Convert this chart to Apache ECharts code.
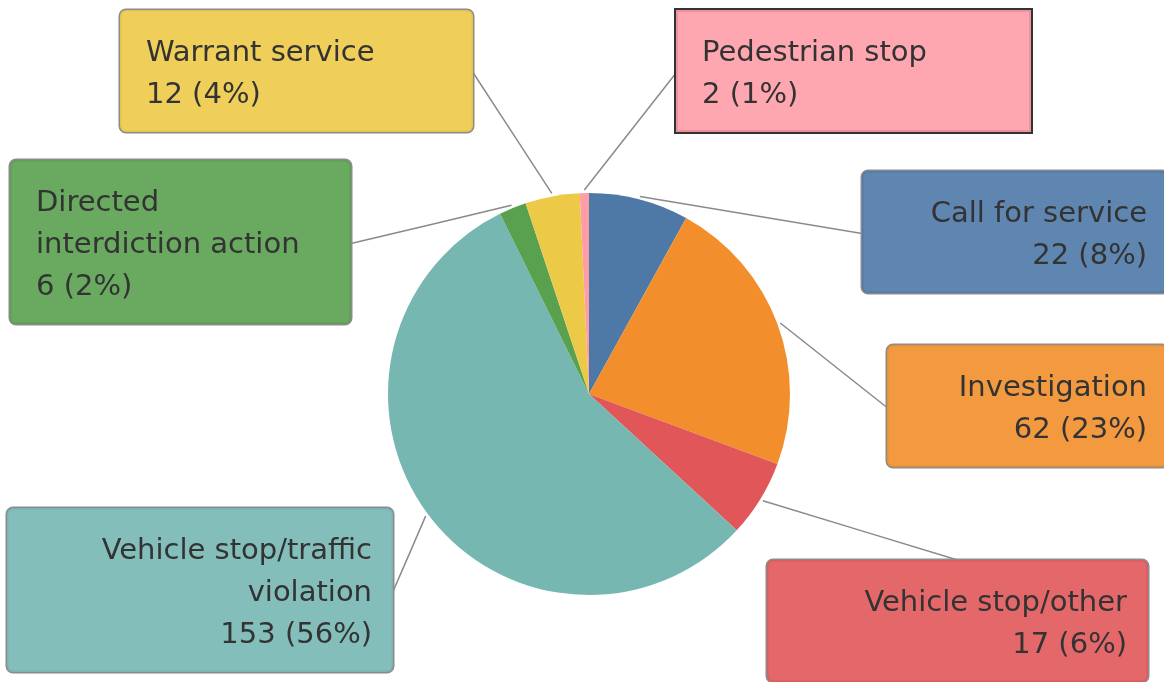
<!DOCTYPE html>
<html>
<head>
<meta charset="utf-8">
<script src="https://cdn.jsdelivr.net/npm/echarts@6/dist/echarts.min.js"></script>
<style>
  html, body { margin: 0; padding: 0; background: #fff; }
  #stops_pie { width: 1164px; height: 682px; }
</style>
</head>
<body>
<div id="stops_pie"></div>
<script>
// categories go clockwise from 12 o'clock
var categories = ['Call for service', 'Investigation', 'Vehicle stop/other',
    'Vehicle stop/traffic\nviolation', 'Directed\ninterdiction action',
    'Warrant service', 'Pedestrian stop'];
var counts = [22, 62, 17, 153, 6, 12, 2];
var sliceColors = ['#4e79a7', '#f28e2b', '#e15759', '#76b7b2', '#59a14f', '#edc948', '#ff9da7'];

// where each annotation box sits, and which side its leader line meets
var boxes = [
    { x: 862, y: 171, w: 306, align: 'right', side: 'left' },
    { x: 887, y: 345, w: 281, align: 'right', side: 'left' },
    { x: 767, y: 560, w: 381, align: 'right', side: 'top' },
    { x: 7, y: 508, w: 386, align: 'right', side: 'right' },
    { x: 10, y: 160, w: 341, align: 'left', side: 'right' },
    { x: 120, y: 10, w: 353, align: 'left', side: 'right' },
    { x: 676, y: 10, w: 355, align: 'left', side: 'left', square: true }
];

function fade(hex, a) {
    var n = parseInt(hex.slice(1), 16);
    return 'rgba(' + (n >> 16) + ',' + ((n >> 8) & 255) + ',' + (n & 255) + ',' + a + ')';
}

var padL = 26, padR = 21;
var pieData = categories.map(function (name, i) {
    var b = boxes[i];
    return {
        name: name,
        value: counts[i],
        itemStyle: { color: sliceColors[i] },
        label: {
            align: b.align,
            width: b.w - padL - padR,
            overflow: 'none',
            padding: [22, padR, 16, padL],
            backgroundColor: fade(sliceColors[i], 0.9),
            borderColor: b.square ? '#333' : '#8c8c8c',
            borderWidth: b.square ? 2 : 1.5,
            borderRadius: b.square ? 0 : 6
        }
    };
});

var myChart = echarts.init(document.getElementById('stops_pie'));
myChart.setOption({
    animation: false,
    series: [
        {
            type: 'pie',
            center: [589, 394],
            radius: 201,
            startAngle: 90,
            clockwise: true,
            avoidLabelOverlap: false,
            percentPrecision: 0,
            data: pieData,
            label: {
                show: true,
                position: 'outside',
                formatter: '{b}\n{c} ({d}%)',
                fontFamily: 'DejaVu Sans',
                fontSize: 29,
                lineHeight: 42,
                color: '#333'
            },
            labelLine: {
                show: true,
                length: 20,
                length2: 20,
                lineStyle: { color: '#8a8a8a', width: 1.5 }
            },
            labelLayout: function (params) {
                var b = boxes[params.dataIndex];
                var h = params.labelRect.height;
                var p = params.labelLinePoints;
                var dx = p[1][0] - p[0][0], dy = p[1][1] - p[0][1];
                var len = Math.sqrt(dx * dx + dy * dy) || 1;
                var start = [p[0][0] + dx / len * 3, p[0][1] + dy / len * 3];
                var end;
                if (b.side === 'left') end = [b.x, b.y + h / 2];
                else if (b.side === 'right') end = [b.x + b.w, b.y + h / 2];
                else end = [b.x + b.w / 2, b.y];
                return {
                    x: b.align === 'right' ? b.x + b.w : b.x,
                    y: b.y,
                    align: b.align,
                    verticalAlign: 'top',
                    labelLinePoints: [start, [(start[0] + end[0]) / 2, (start[1] + end[1]) / 2], end]
                };
            },
            emphasis: { scale: false }
        }
    ]
});
</script>
</body>
</html>
